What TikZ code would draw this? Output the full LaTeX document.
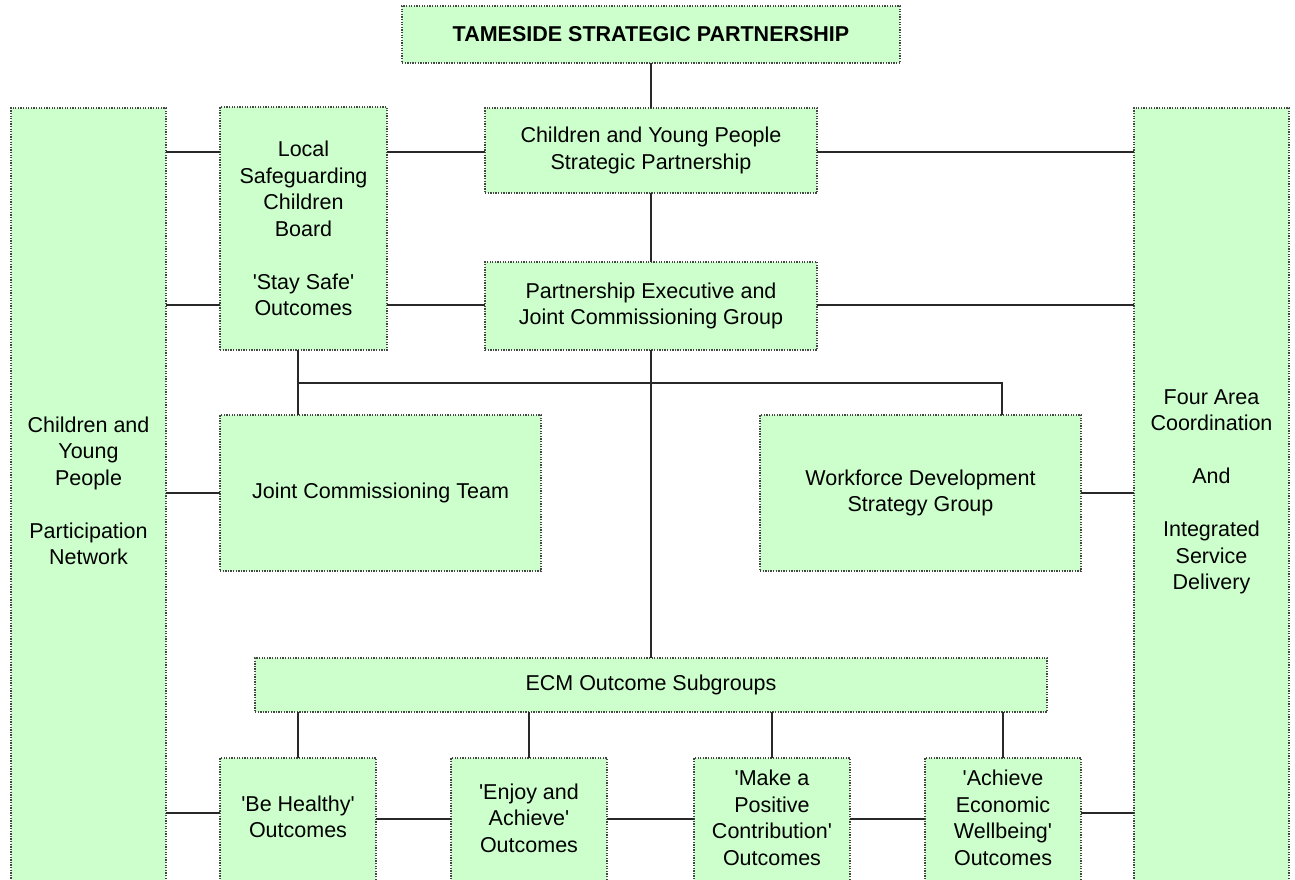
\documentclass[tikz,border=0pt]{standalone}
\usepackage{fontspec}
\setmainfont{Liberation Sans}
\definecolor{boxfill}{RGB}{204,255,204}
\definecolor{boxline}{RGB}{70,70,70}
\definecolor{conn}{RGB}{40,40,40}
\newcommand{\sq}{\textquotesingle}
\begin{document}
\begin{tikzpicture}[x=1pt,y=-1pt,
  box/.style={draw=boxline, fill=boxfill, line width=1.3pt, dash pattern=on 1.3pt off 1.3pt,
    rectangle, inner sep=0pt, outer sep=0pt, align=center,
    font=\fontsize{21.5}{26.5}\selectfont},
  lbl/.style={align=center, inner sep=0pt, font=\fontsize{21.5}{26.5}\selectfont},
  conn/.style={draw=conn, line width=2pt}]
\useasboundingbox (0,0) rectangle (1295,879);
\begin{scope}
\clip (0,0) rectangle (1295,879);
% boxes
\node[box, minimum width=498pt, minimum height=57pt, font=\fontsize{21.5}{26.5}\selectfont\bfseries] (title) at (651,34.5) {TAMESIDE STRATEGIC PARTNERSHIP};
\node[box, minimum width=332pt, minimum height=85pt] (cyp) at (651,150.5) {Children and Young People\\Strategic Partnership};
\node[box, minimum width=332pt, minimum height=88pt] (pej) at (651,306) {Partnership Executive and\\Joint Commissioning Group};
\node[box, minimum width=155pt, minimum height=790pt] (left) at (88.5,503) {};
\node[lbl] (lefttxt) at (88.5,491) {Children and\\Young\\People\\[26.5pt]Participation\\Network};
\node[box, minimum width=155pt, minimum height=790pt] (right) at (1211.5,503) {};
\node[lbl] (righttxt) at (1211.5,492) {Four Area\\Coordination\\[26.5pt]And\\[26.5pt]Integrated\\Service\\Delivery};
\node[box, minimum width=167pt, minimum height=243pt] (lscb) at (303.5,228.5) {Local\\Safeguarding\\Children\\Board\\[26.5pt]\sq Stay Safe\sq\\Outcomes};
\node[box, minimum width=321pt, minimum height=156pt] (jct) at (380.5,493) {Joint Commissioning Team};
\node[box, minimum width=321pt, minimum height=156pt] (wdsg) at (920.5,493) {Workforce Development\\Strategy Group};
\node[box, minimum width=792pt, minimum height=54pt] (ecm) at (651,685) {ECM Outcome Subgroups};
\node[box, minimum width=156pt, minimum height=140pt] (bh) at (298,828) {};
\node[box, minimum width=156pt, minimum height=140pt] (ea) at (529,828) {};
\node[box, minimum width=156pt, minimum height=140pt] (mpc) at (772,828) {};
\node[box, minimum width=156pt, minimum height=140pt] (aew) at (1003,828) {};
\node[lbl] (bhtxt) at (298,817) {\sq Be Healthy\sq\\Outcomes};
\node[lbl] (eatxt) at (529,818) {\sq Enjoy and\\Achieve\sq\\Outcomes};
\node[lbl] (mpctxt) at (772,818) {\sq Make a\\Positive\\Contribution\sq\\Outcomes};
\node[lbl] (aewtxt) at (1003,818) {\sq Achieve\\Economic\\Wellbeing\sq\\Outcomes};
% connectors
\draw[conn] (title.south) -- (cyp.north);
\draw[conn] (cyp.south) -- (pej.north);
\draw[conn] (left.east |- 0,152) -- (lscb.west |- 0,152);
\draw[conn] (lscb.east |- 0,152) -- (cyp.west |- 0,152);
\draw[conn] (cyp.east |- 0,152) -- (right.west |- 0,152);
\draw[conn] (left.east |- 0,305) -- (lscb.west |- 0,305);
\draw[conn] (lscb.east |- 0,305) -- (pej.west |- 0,305);
\draw[conn] (pej.east |- 0,305) -- (right.west |- 0,305);
\coordinate (jn1) at (298,383);
\coordinate (jn2) at (1002,383);
\draw[conn] (lscb.south -| jn1) -- (jct.north -| jn1);
\draw[conn] (jn1) -- (jn2) -- (wdsg.north -| jn2);
\draw[conn] (pej.south) -- (ecm.north);
\draw[conn] (left.east |- 0,493) -- (jct.west);
\draw[conn] (wdsg.east) -- (right.west |- 0,493);
\draw[conn] (ecm.south -| bh.north) -- (bh.north);
\draw[conn] (ecm.south -| ea.north) -- (ea.north);
\draw[conn] (ecm.south -| mpc.north) -- (mpc.north);
\draw[conn] (ecm.south -| aew.north) -- (aew.north);
\draw[conn] (left.east |- 0,813) -- (bh.west |- 0,813);
\draw[conn] (bh.east |- 0,819) -- (ea.west |- 0,819);
\draw[conn] (ea.east |- 0,819) -- (mpc.west |- 0,819);
\draw[conn] (mpc.east |- 0,819) -- (aew.west |- 0,819);
\draw[conn] (aew.east |- 0,813) -- (right.west |- 0,813);
\end{scope}
\end{tikzpicture}
\end{document}
